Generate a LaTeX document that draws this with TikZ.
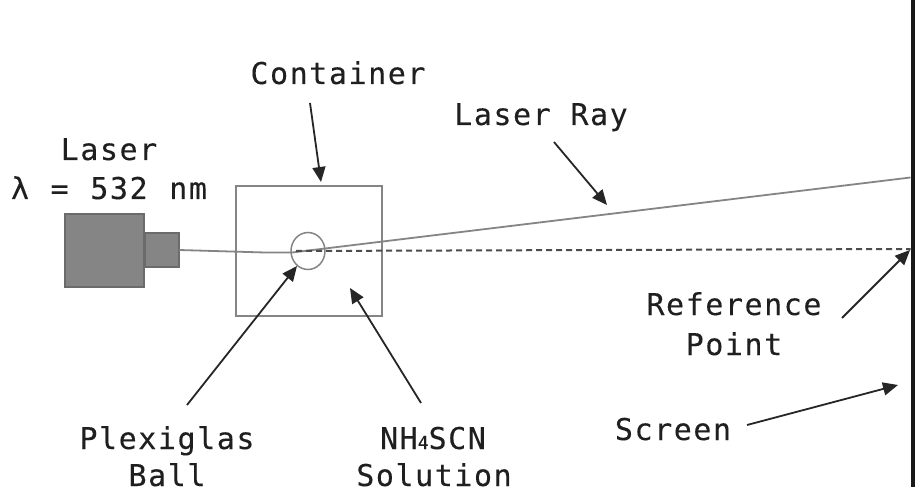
\documentclass[tikz,border=0pt]{standalone}
\usepackage{fontspec}
\setmonofont[LetterSpace=5.2,FakeBold=0.15]{DejaVu Sans Mono}
\usetikzlibrary{arrows.meta}
\tikzset{
  lbl/.style={font=\ttfamily\fontsize{30}{30}\selectfont,text=black!88,inner sep=0pt,anchor=base},
  pointer/.style={draw=black!85,line width=1.8pt,-{Triangle[length=15pt,width=13pt]}},
  body/.style={draw=black!58,fill=black!48,line width=1.2pt},
  thin line/.style={draw=black!48,line width=1.5pt},
}
\begin{document}
\begin{tikzpicture}[x=1pt,y=-1pt]
\useasboundingbox (0,0) rectangle (915,489);
\fill[white] (0,0) rectangle (915,489);
% screen
\node[draw=none,fill=black!90,minimum width=4.5pt,minimum height=487pt,inner sep=0pt,outer sep=0pt,anchor=north east] (screen) at (915,0) {};
% laser
\node[body,minimum width=79pt,minimum height=73pt,inner sep=0pt,outer sep=0pt,anchor=north west] (laser) at (65,214) {};
\node[body,minimum width=34pt,minimum height=34pt,inner sep=0pt,outer sep=0pt,anchor=west] (head) at (145,250) {};
% container
\node[thin line,minimum width=146pt,minimum height=130pt,inner sep=0pt,outer sep=0pt,anchor=north west] (box) at (236,186) {};
% ball
\coordinate (bc) at (308,251);
\draw[thin line] (bc) ellipse [x radius=17,y radius=18.5];
\coordinate (in1) at (265,252.5);
\coordinate (refr) at (292,252.5);
\coordinate (ref) at (910.5,249);
\coordinate (spot) at (910.5,177.5);
\draw[thin line,line width=1.8pt] (head.east) -- (in1) -- (refr) -- (spot);
\draw[draw=black!70,line width=2pt,dash pattern=on 6pt off 4pt] (296,251) -- (ref);
% labels
\node[lbl] (lcont) at (338,84) {Container};
\node[lbl] (lray) at (541,125) {Laser Ray};
\node[lbl] (llaser) at (109,160) {Laser};
\node[lbl] (llam) at (109,199) {λ\kern2pt{} =\kern2pt{} 532\kern2pt{} nm};
\node[lbl] (lref) at (734,315) {Reference};
\node[lbl] (lpt) at (734,355) {Point};
\node[lbl] (lscr) at (673,440) {Screen};
\node[lbl] (lplex) at (167,449) {Plexiglas};
\node[lbl] (lball) at (167,486) {Ball};
\node[lbl] (lnh) at (433,449) {NH{\fontsize{18}{18}\selectfont 4}SCN};
\node[lbl] (lsol) at (434,486) {Solution};
% pointers
\coordinate (a1) at (310,103); \coordinate (b1) at (321,182);
\coordinate (a2) at (554,142); \coordinate (b2) at (607,205);
\coordinate (a3) at (187,405); \coordinate (b3) at (297,266);
\coordinate (a4) at (421,403); \coordinate (b4) at (350,288);
\coordinate (a5) at (842,318); \coordinate (b5) at (910,250);
\coordinate (a6) at (747,425); \coordinate (b6) at (898,385);
\draw[pointer] (a1) -- (b1);
\draw[pointer] (a2) -- (b2);
\draw[pointer] (a3) -- (b3);
\draw[pointer] (a4) -- (b4);
\draw[pointer] (a5) -- (b5);
\draw[pointer] (a6) -- (b6);
\end{tikzpicture}
\end{document}
